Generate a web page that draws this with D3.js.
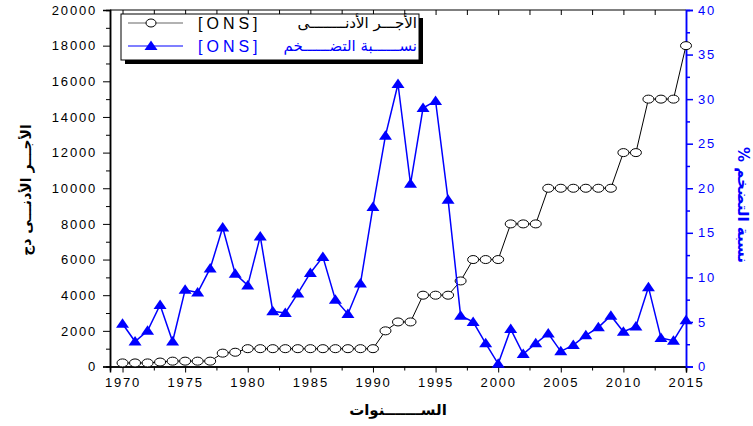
<!DOCTYPE html>
<html>
<head>
<meta charset="utf-8">
<script src="https://cdn.jsdelivr.net/npm/d3@7"></script>
<style>
	body { margin: 0; background: #fff; }
	svg { display: block; }
	.tick text { font-family: 'Liberation Sans', Arial, sans-serif; font-size: 13px; letter-spacing: 1.8px; }
	.ar { font-family: 'DejaVu Sans', sans-serif; }
</style>
</head>
<body>
<svg id="chart" width="753" height="426"></svg>
<script>
// years on x, minimum wage (DZD) on left axis, inflation (%) on right axis
const years = d3.range(1970, 2016);
const minWage = [
	200, 200, 200, 250, 300, 300, 300, 300, 750, 800,
	1000, 1000, 1000, 1000, 1000, 1000, 1000, 1000, 1000, 1000,
	1000, 2000, 2500, 2500, 4000, 4000, 4000, 4800, 6000, 6000,
	6000, 8000, 8000, 8000, 10000, 10000, 10000, 10000, 10000, 10000,
	12000, 12000, 15000, 15000, 15000, 18000
];
const inflation = [
	4.8, 2.8, 4.0, 6.9, 2.8, 8.6, 8.3, 11.0, 15.6, 10.4,
	9.1, 14.6, 6.2, 6.0, 8.2, 10.5, 12.3, 7.5, 5.9, 9.3,
	17.9, 25.9, 31.7, 20.5, 29.0, 29.8, 18.7, 5.7, 5.0, 2.6,
	0.3, 4.2, 1.4, 2.6, 3.7, 1.7, 2.4, 3.5, 4.4, 5.7,
	3.9, 4.5, 8.9, 3.2, 2.9, 5.2
];
const xTicks = d3.range(1970, 2016, 5);
const leftTicks = d3.range(0, 20001, 2000);
const rightTicks = d3.range(0, 41, 5);

const BLUE = '#0000ff';
const svg = d3.select('#chart');
const margin = { left: 110, right: 686, top: 10, bottom: 366.5 };

const x = d3.scaleLinear([1969, 2015], [margin.left, margin.right]);
const yLeft = d3.scaleLinear([0, 20000], [margin.bottom, margin.top]);
const yRight = d3.scaleLinear([0, 40], [margin.bottom, margin.top]);

// minor ticks (no labels)
const minorAxis = (axis, vals, len) => axis.tickValues(vals).tickSize(len).tickFormat('');

// bottom axis
svg.append('g').attr('transform', `translate(0,${margin.bottom})`)
	.call(minorAxis(d3.axisBottom(x), d3.range(1972.5, 2015, 5), 4));
svg.append('g').attr('transform', `translate(0,${margin.bottom})`)
	.call(d3.axisBottom(x).tickValues(xTicks).tickSize(6).tickPadding(5).tickFormat(d3.format('d')));

// top border with inward ticks
svg.append('g').attr('transform', `translate(0,${margin.top})`)
	.call(minorAxis(d3.axisBottom(x), d3.range(1970, 2016, 2.5), 5))
	.call((g) => g.select('.domain').remove());
svg.append('line').attr('x1', margin.left).attr('x2', margin.right)
	.attr('y1', margin.top).attr('y2', margin.top).attr('stroke', '#000');

// left axis
svg.append('g').attr('transform', `translate(${margin.left},0)`)
	.call(minorAxis(d3.axisLeft(yLeft), d3.range(1000, 20000, 2000), 4));
svg.append('g').attr('transform', `translate(${margin.left},0)`)
	.call(d3.axisLeft(yLeft).tickValues(leftTicks).tickSize(7).tickPadding(6).tickFormat(d3.format('d')));

// right axis (blue)
let rightG = svg.append('g').attr('transform', `translate(${margin.right},0)`);
rightG.call(minorAxis(d3.axisRight(yRight), d3.range(2.5, 40, 5), 4));
rightG.append('g').call(d3.axisRight(yRight).tickValues(rightTicks).tickSize(7).tickPadding(5));
rightG.selectAll('line, path').attr('stroke', BLUE).attr('stroke-width', 1.5);
rightG.selectAll('text').attr('fill', BLUE);
svg.selectAll('.domain').attr('stroke-width', 1.5);

// minimum wage series
svg.append('path')
	.datum(years)
	.attr('fill', 'none')
	.attr('stroke', '#000')
	.attr('stroke-width', 1)
	.attr('d', d3.line().x((d) => x(d)).y((d, i) => yLeft(minWage[i])));
svg.append('g').selectAll('ellipse')
	.data(years)
	.join('ellipse')
	.attr('cx', (d) => x(d))
	.attr('cy', (d, i) => yLeft(minWage[i]))
	.attr('rx', 5.5).attr('ry', 4)
	.attr('fill', '#fff').attr('stroke', '#000').attr('stroke-width', 1);

// inflation series
const tri = 'M0,-5.5L6.5,4L-6.5,4Z';
svg.append('path')
	.datum(years)
	.attr('fill', 'none')
	.attr('stroke', BLUE)
	.attr('stroke-width', 1.5)
	.attr('d', d3.line().x((d) => x(d)).y((d, i) => yRight(inflation[i])));
svg.append('g').selectAll('path')
	.data(years)
	.join('path')
	.attr('d', tri)
	.attr('transform', (d, i) => `translate(${x(d)},${yRight(inflation[i])})`)
	.attr('fill', BLUE);

// legend
let legendG = svg.append('g').attr('transform', 'translate(121,14)');
legendG.append('rect').attr('x', 4).attr('y', 4).attr('width', 298).attr('height', 46).attr('fill', '#000');
legendG.append('rect').attr('width', 298).attr('height', 46).attr('fill', '#fff').attr('stroke', '#000');
const legendRows = [
	{ label: 'الأجـــر الأدنــــــــى', color: '#666', textColor: '#000', y: 9 },
	{ label: 'نســــــبة التضــــــخم', color: BLUE, textColor: BLUE, y: 32 }
];
legendRows.forEach((r, i) => {
	legendG.append('line').attr('x1', 7).attr('x2', 62).attr('y1', r.y).attr('y2', r.y)
		.attr('stroke', r.color).attr('stroke-width', 1.2);
	if (i == 0) {
		legendG.append('ellipse').attr('cx', 30).attr('cy', r.y).attr('rx', 5).attr('ry', 4)
			.attr('fill', '#fff').attr('stroke', '#000');
	} else {
		legendG.append('path').attr('d', tri).attr('transform', `translate(30,${r.y})`).attr('fill', BLUE);
	}
	legendG.append('text').attr('x', 77).attr('y', r.y + 6)
		.attr('font-family', 'Liberation Sans, Arial, sans-serif').attr('font-size', 16)
		.attr('letter-spacing', 4).attr('fill', r.textColor).text('[ONS]');
	legendG.append('text').attr('class', 'ar').attr('x', 296).attr('y', r.y + 5)
		.attr('text-anchor', 'end').attr('font-size', 15).attr('fill', r.textColor).text(r.label);
});

// axis titles
svg.append('text').attr('class', 'ar')
	.attr('transform', 'translate(27,190) rotate(-90)')
	.attr('text-anchor', 'middle').attr('dominant-baseline', 'middle')
	.attr('font-size', 14).attr('font-weight', 'bold')
	.text('الأجـــر الأدنـــى دج');
svg.append('text').attr('class', 'ar')
	.attr('transform', 'translate(742,205) rotate(90)')
	.attr('text-anchor', 'middle').attr('dominant-baseline', 'middle')
	.attr('font-size', 15).attr('font-weight', 'bold').attr('fill', BLUE)
	.text('% نسبة التضخم');
svg.append('text').attr('class', 'ar')
	.attr('x', 398).attr('y', 415)
	.attr('text-anchor', 'middle')
	.attr('font-size', 15).attr('font-weight', 'bold')
	.text('الســـــــنوات');
</script>
</body>
</html>
